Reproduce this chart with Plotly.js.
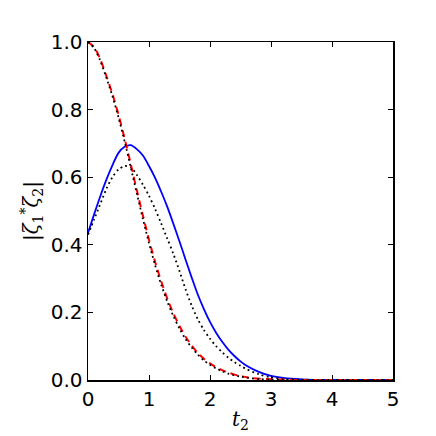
<!DOCTYPE html>
<html>
<head>
<meta charset="utf-8">
<script src="https://cdn.plot.ly/plotly-3.0.1.min.js"></script>
<style>
  html, body { margin: 0; padding: 0; background: #fff; }
  #chart { width: 436px; height: 436px; }
</style>
</head>
<body>
<div id="chart"></div>
<script>
// values
let tA = [0, 0.1, 0.2, 0.3, 0.4, 0.5, 0.6, 0.7, 0.8, 0.9, 1.0, 1.1, 1.2, 1.3, 1.4, 1.5,
          1.6, 1.7, 1.8, 1.9, 2.0, 2.1, 2.2, 2.3, 2.4, 2.5, 2.6, 2.8, 3.0, 3.2, 3.5, 4.0, 4.5, 5.0];

// blue solid
let blueY = [0.435, 0.49, 0.543, 0.592, 0.635, 0.672, 0.69, 0.695, 0.683, 0.664, 0.633, 0.598,
             0.557, 0.512, 0.462, 0.41, 0.356, 0.303, 0.253, 0.21, 0.172, 0.14, 0.113, 0.09,
             0.071, 0.055, 0.042, 0.024, 0.012, 0.006, 0.002, 0.0, 0.0, 0.0];

// black dotted, below the blue one
let dotLowY = [0.43, 0.475, 0.52, 0.565, 0.6, 0.623, 0.633, 0.63, 0.607, 0.578, 0.545, 0.506,
               0.463, 0.418, 0.373, 0.322, 0.268, 0.22, 0.18, 0.148, 0.122, 0.1, 0.082, 0.066,
               0.053, 0.042, 0.032, 0.017, 0.008, 0.003, 0.001, 0.0, 0.0, 0.0];

// red dashed
let redY = [1.0, 0.985, 0.95, 0.90, 0.847, 0.785, 0.715, 0.64, 0.562, 0.487, 0.415, 0.35,
            0.292, 0.241, 0.197, 0.16, 0.128, 0.102, 0.08, 0.063, 0.049, 0.038, 0.029, 0.022,
            0.016, 0.012, 0.008, 0.004, 0.002, 0.001, 0.0, 0.0, 0.0, 0.0];

// black dotted, along the red one
let dotHighY = [1.0, 0.982, 0.945, 0.895, 0.84, 0.777, 0.706, 0.63, 0.552, 0.477, 0.405, 0.34,
                0.282, 0.232, 0.189, 0.152, 0.121, 0.096, 0.075, 0.058, 0.045, 0.034, 0.026,
                0.019, 0.014, 0.01, 0.007, 0.003, 0.001, 0.0, 0.0, 0.0, 0.0, 0.0];

let xTicks = [0, 1, 2, 3, 4, 5];
let yTicks = [0.0, 0.2, 0.4, 0.6, 0.8, 1.0];

function line(y, color, dash, width) {
    return {
        x: tA,
        y: y,
        type: 'scatter',
        mode: 'lines',
        hoverinfo: 'skip',
        line: { color: color, width: width, dash: dash, shape: 'spline', smoothing: 0.8 }
    };
}

const traces = [
    line(blueY, '#0000ff', 'solid', 1.8),
    line(dotLowY, '#000000', '1.8px,3.2px', 1.8),
    line(redY, '#ff0000', '7px,5px', 2),
    line(dotHighY, '#000000', '1.8px,3.2px', 1.8)
];

const axisStyle = {
    showgrid: false,
    zeroline: false,
    showline: true,
    linecolor: '#000',
    linewidth: 1.5,
    mirror: 'ticks',
    ticks: 'inside',
    ticklen: 5,
    tickwidth: 1,
    tickcolor: '#000',
    tickfont: { family: 'DejaVu Sans', size: 20, color: '#000' }
};

const layout = {
    width: 436,
    height: 436,
    margin: { l: 88, r: 43, t: 42, b: 56 },
    paper_bgcolor: '#fff',
    plot_bgcolor: '#fff',
    showlegend: false,
    xaxis: Object.assign({}, axisStyle, {
        range: [0, 5],
        tickvals: xTicks,
        ticktext: xTicks.map(String),
        title: { text: '<i>t</i><sub>2</sub>', font: { family: 'DejaVu Serif', size: 20, color: '#000' }, standoff: 2 }
    }),
    yaxis: Object.assign({}, axisStyle, {
        range: [0, 1],
        tickvals: yTicks,
        ticktext: yTicks.map(v => v.toFixed(1)),
        title: { text: '|<i>ζ</i><sub>1</sub><sup>*</sup><i>ζ</i><sub>2</sub>|', font: { family: 'DejaVu Serif', size: 20, color: '#000' }, standoff: 6 }
    })
};

Plotly.newPlot('chart', traces, layout, { displayModeBar: false, staticPlot: true });
</script>
</body>
</html>
